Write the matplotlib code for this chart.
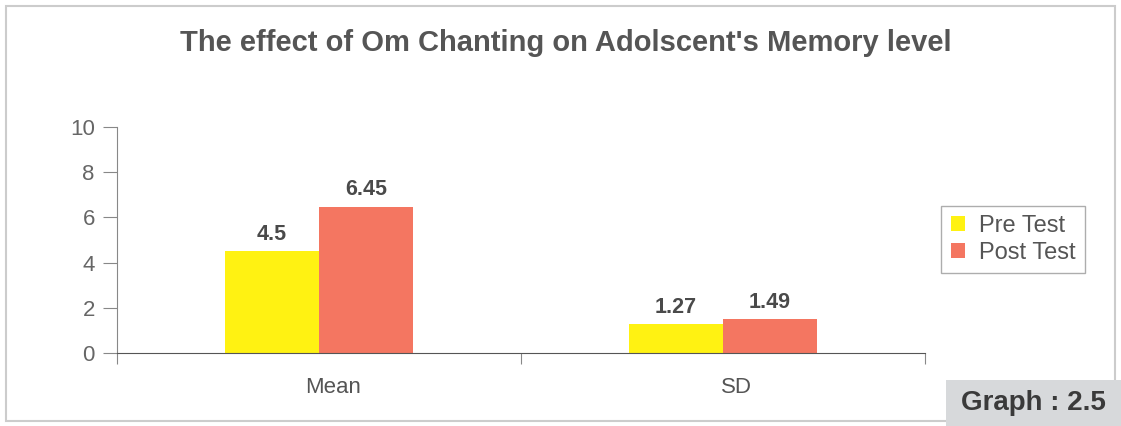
import numpy as np
import matplotlib.pyplot as plt
from matplotlib.patches import Rectangle

plt.rcParams["font.family"] = ["Liberation Sans", "DejaVu Sans"]

categories = ["Mean", "SD"]
pre_test = [4.5, 1.27]
post_test = [6.45, 1.49]
series_names = ["Pre Test", "Post Test"]

fig = plt.figure(figsize=(11.21, 4.26), dpi=100)
fig.patch.set_facecolor("white")
ax = fig.add_axes([0.1044, 0.1714, 0.7204, 0.5305])

x = np.arange(len(categories))
w = 0.233
ax.bar(x - w / 2, pre_test, w, color="#fff212", label=series_names[0])
ax.bar(x + w / 2, post_test, w, color="#f47661", label=series_names[1])

for xi, v in zip(x - w / 2, pre_test):
    ax.text(xi, v + 0.3, "%g" % v, ha="center", va="bottom",
            fontsize=15.5, fontweight="bold", color="#4a4a4a")
for xi, v in zip(x + w / 2, post_test):
    ax.text(xi, v + 0.3, "%g" % v, ha="center", va="bottom",
            fontsize=15.5, fontweight="bold", color="#4a4a4a")

ax.set_xlim(-0.5, 1.5)
ax.set_ylim(0, 10)
ax.set_yticks([0, 2, 4, 6, 8, 10])
ax.set_xticks([-0.5, 0.5, 1.5])
ax.set_xticklabels([])
ax.set_xticks(x + 0.035, minor=True)
ax.set_xticklabels(categories, minor=True)
ax.tick_params(axis="x", which="minor", length=0, pad=17, labelsize=16, labelcolor="#555555")
ax.tick_params(axis="x", which="major", length=8, color="#888888")
ax.tick_params(axis="y", length=10, color="#888888", labelsize=16, labelcolor="#666666", pad=6)

for s in ["top", "right"]:
    ax.spines[s].set_visible(False)
ax.spines["left"].set_color("#888888")
ax.spines["bottom"].set_color("#555555")

fig.text(0.505, 0.90, "The effect of Om Chanting on Adolscent's Memory level",
         ha="center", va="center", fontsize=21, fontweight="bold", color="#555555")

leg = fig.legend(loc="upper left", bbox_to_anchor=(0.829, 0.545), frameon=True,
                 fancybox=False, fontsize=17, handlelength=0.6, handleheight=0.6,
                 handletextpad=0.6, borderpad=0.4, labelspacing=0.2)
leg.get_frame().set_edgecolor("#999999")
leg.get_frame().set_linewidth(1)
for t in leg.get_texts():
    t.set_color("#555555")

fig.patches.append(Rectangle((0.005, 0.012), 0.99, 0.975, transform=fig.transFigure,
                             fill=False, edgecolor="#cccccc", linewidth=1.5))
fig.patches.append(Rectangle((0.844, 0.0), 0.156, 0.108, transform=fig.transFigure,
                             facecolor="#d7d9db", edgecolor="none"))
fig.text(0.922, 0.054, "Graph : 2.5", ha="center", va="center",
         fontsize=20, fontweight="bold", color="#3a3a3a")

fig.savefig("out.png", dpi=100)
